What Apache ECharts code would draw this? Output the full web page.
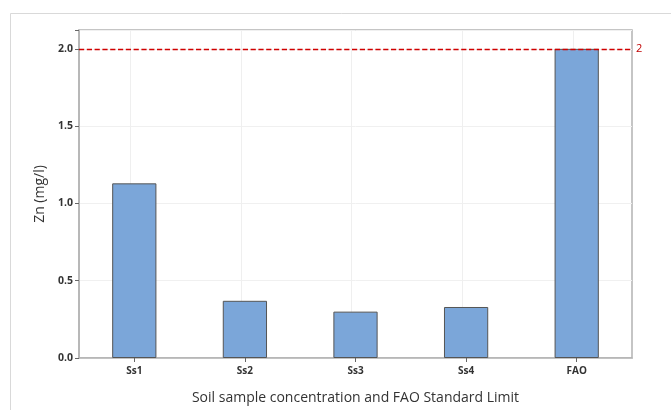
<!DOCTYPE html>
<html>
<head>
<meta charset="utf-8">
<script src="https://cdn.jsdelivr.net/npm/echarts@6/dist/echarts.min.js"></script>
<style>html,body{margin:0;padding:0;background:#fff}#c{width:671px;height:410px}</style>
</head>
<body>
<div id="c"></div>
<script>
const categories = ['Ss1', 'Ss2', 'Ss3', 'Ss4', 'FAO'];
const znValues = [1.13, 0.37, 0.30, 0.33, 2.0];
const yTicks = [0, 0.5, 1.0, 1.5, 2.0];
const faoLimit = 2;

const gridVLines = categories.map(c => ({
  xAxis: c,
  lineStyle: {color: '#efefef', type: 'solid', width: 1},
  label: {show: false}
}));

const chart = echarts.init(document.getElementById('c'), null, {renderer: 'canvas'});
chart.setOption({
  animation: false,
  backgroundColor: '#fff',
  graphic: [{
    type: 'rect', left: 8, top: 11, silent: true,
    shape: {width: 700, height: 450},
    style: {fill: 'none', stroke: '#d9d9d9', lineWidth: 1}
  }],
  grid: {left: 79, right: 39, top: 30, bottom: 50, show: true, borderColor: '#b3b3b3', borderWidth: 1.5, backgroundColor: 'transparent'},
  xAxis: {
    type: 'category', data: categories,
    axisLine: {show: true, lineStyle: {color: '#b3b3b3', width: 1.5}},
    axisTick: {show: true, alignWithLabel: true, length: 4, lineStyle: {color: '#666'}},
    axisLabel: {color: '#333', fontSize: 10, fontWeight: 'bold', fontFamily: 'Open Sans', margin: 8},
    splitLine: {show: false},
    name: 'Soil sample concentration and FAO Standard Limit',
    nameLocation: 'middle', nameGap: 33,
    nameTextStyle: {color: '#333', fontSize: 14, fontFamily: 'Open Sans'}
  },
  yAxis: {
    type: 'value', min: 0, max: 2.122, interval: 0.5,
    axisLine: {show: true, lineStyle: {color: '#b3b3b3', width: 1.5}},
    axisTick: {show: true, length: 4, lineStyle: {color: '#666'}},
    axisLabel: {color: '#333', fontSize: 10.5, fontWeight: 'bold', fontFamily: 'Open Sans', margin: 6,
      formatter: v => yTicks.some(t => Math.abs(t - v) < 1e-9) ? v.toFixed(1) : ''},
    splitLine: {show: true, lineStyle: {color: '#f0f0f0', width: 1}},
    name: 'Zn (mg/l)', nameLocation: 'middle', nameGap: 32, nameRotate: 90,
    nameTextStyle: {color: '#333', fontSize: 14, fontFamily: 'Open Sans'}
  },
  series: [{
    type: 'bar', data: [], silent: true, z: 0,
    markLine: {
      silent: true, symbol: ['none', 'none'], animation: false, z: 0, zlevel: 0,
      data: gridVLines
    }
  }, {
    type: 'bar', data: znValues, barWidth: '40%', barGap: '-100%', z: 3,
    itemStyle: {color: '#7ba6d9', borderColor: '#555', borderWidth: 1},
    markLine: {
      silent: true, symbol: ['none', 'none'], z: 6,
      itemStyle: {color: '#d00000'},
      lineStyle: {color: '#d00000', type: 'dashed', width: 1.3},
      label: {show: true, position: 'end', formatter: String(faoLimit), color: '#c00000', fontSize: 11, fontFamily: 'Open Sans', distance: 4},
      data: [{yAxis: faoLimit, itemStyle: {color: '#d00000'}, lineStyle: {color: '#d00000', type: 'dashed', width: 1.3}}]
    }
  }]
});
</script>
</body>
</html>
